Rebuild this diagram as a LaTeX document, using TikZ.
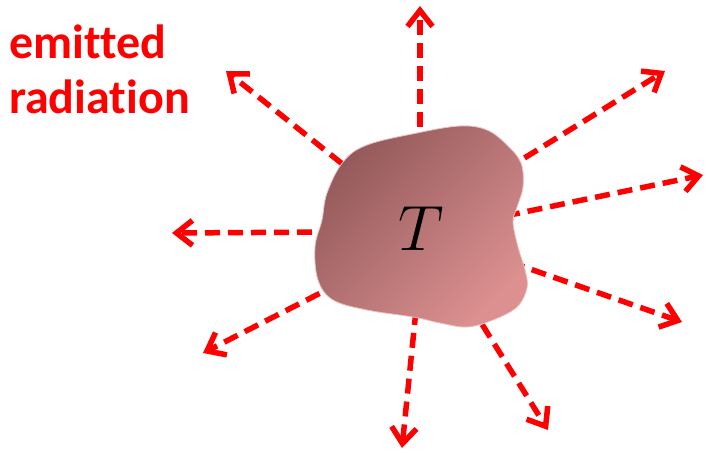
\documentclass[tikz,border=0pt]{standalone}
\usepackage{fix-cm}
\usepackage{fontspec}
\newfontfamily\labelfont[Ligatures=NoCommon]{Carlito}
\usetikzlibrary{arrows.meta}

\definecolor{rayred}{HTML}{FF0000}
\definecolor{blobdark}{HTML}{93595A}
\definecolor{bloblight}{HTML}{DC9090}
\definecolor{blobrim}{HTML}{ECC0C0}

\tikzset{
    ray/.style={rayred, line width=5.5pt, dash pattern=on 15pt off 8pt,
        -{Straight Barb[length=16pt,width=25pt]}},
}

\begin{document}
\begin{tikzpicture}[x=1pt,y=-1pt]
        \useasboundingbox (0,0) rectangle (707,453);

        % Strahlen
        \foreach \i/\sx/\sy/\ex/\ey in {1/420/150/420/6,2/360/178/226/71,3/505/170/665/71,
            4/505/216/703/175,5/335/232/172/233,6/510/262/682/322,7/340/283/203/353,
            8/416/310/402/448,9/470/305/548/430}
        {
            \coordinate (s\i) at (\sx,\sy);
            \coordinate (e\i) at (\ex,\ey);
            \draw[ray] (s\i) -- (e\i);
        }

        % Koerper
        \shade[top color=blobdark, bottom color=bloblight, shading angle=45,
            draw=blobrim, line width=0.8pt]
            plot[smooth cycle, tension=0.6] coordinates {
                (343,162) (367,145) (417,133) (460,126) (487,130) (507,145)
                (521,163) (523,187) (517,207) (513,222) (518,247) (525,270)
                (527,288) (517,307) (493,320) (467,327) (440,323) (413,317)
                (367,310) (333,300) (318,280) (315,247) (322,220) (327,193)};
        \node[font=\fontsize{64}{64}\selectfont] (body) at (421,229) {$T$};

        % Beschriftung
        \node[rayred, anchor=base west, align=left, inner sep=0pt,
            font=\labelfont\bfseries\fontsize{48}{55}\selectfont]
            (label) at (9,113) {emitted\\radiation};
\end{tikzpicture}
\end{document}
